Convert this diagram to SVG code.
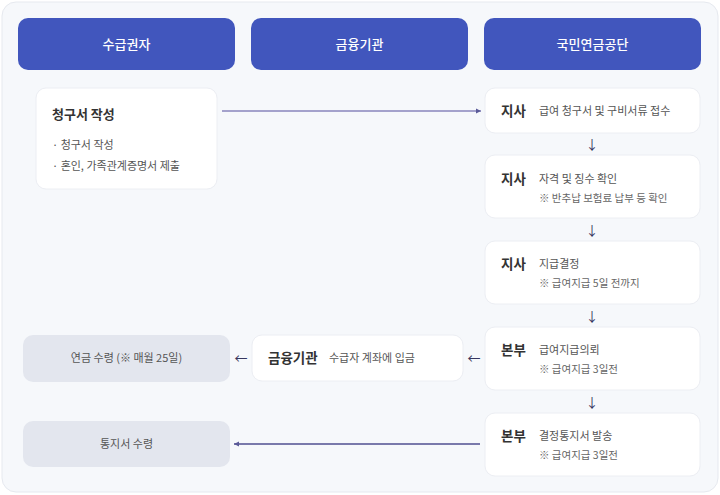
<svg xmlns="http://www.w3.org/2000/svg" width="720" height="495" viewBox="0 0 720 495">
<defs>
<style>
text{font-family:"Noto Sans CJK KR","Noto Sans",sans-serif}
.hdr{fill:#4156bd}
.ht{fill:#ffffff;font-size:13px;font-weight:500;text-anchor:middle}
.card{fill:#ffffff;stroke:#eceef3;stroke-width:1}
.gray{fill:#e3e6ee}
.tag{fill:#333;font-size:13.5px;font-weight:700}
.main{fill:#555;font-size:11px}
.sub{fill:#666;font-size:10.5px}
.glyph{fill:#36365e;font-size:13px;text-anchor:middle}
</style>
<marker id="ah" viewBox="0 0 6 6" refX="5" refY="3" markerWidth="6" markerHeight="6" orient="auto-start-reverse" markerUnits="userSpaceOnUse">
<path d="M0,0.5 L5,3 L0,5.5 z" fill="#5a5a98"/>
</marker>
</defs>
<rect x="2" y="2" width="716" height="490" rx="14" fill="#f6f8fb" stroke="#e6e9ef"/>

<g id="header-recipient"><rect class="hdr" x="18" y="18" width="217" height="52" rx="10"/><text class="ht" x="126.5" y="49">수급권자</text></g>
<g id="header-bank"><rect class="hdr" x="251" y="18" width="217" height="52" rx="10"/><text class="ht" x="359.5" y="49">금융기관</text></g>
<g id="header-nps"><rect class="hdr" x="484" y="18" width="217" height="52" rx="10"/><text class="ht" x="592.5" y="49">국민연금공단</text></g>

<g id="claim"><rect class="card" x="36" y="88" width="181" height="101" rx="10"/>
<text class="tag" x="52" y="119" style="font-size:13px">청구서 작성</text>
<text class="main" x="52" y="149">· 청구서 작성</text>
<text class="main" x="52" y="170">· 혼인, 가족관계증명서 제출</text></g>

<g id="step1"><rect class="card" x="485" y="88" width="215" height="45" rx="10"/>
<text class="tag" x="501" y="116">지사</text><text class="main" x="539" y="115">급여 청구서 및 구비서류 접수</text></g>
<g id="step2"><rect class="card" x="485" y="155" width="215" height="63" rx="10"/>
<text class="tag" x="501" y="184">지사</text><text class="main" x="539" y="183">자격 및 징수 확인</text><text class="sub" x="539" y="202">※ 반추납 보험료 납부 등 확인</text></g>
<g id="step3"><rect class="card" x="485" y="241" width="215" height="63" rx="10"/>
<text class="tag" x="501" y="269">지사</text><text class="main" x="539" y="268">지급결정</text><text class="sub" x="539" y="287">※ 급여지급 5일 전까지</text></g>
<g id="step4"><rect class="card" x="485" y="327" width="215" height="63" rx="10"/>
<text class="tag" x="501" y="355">본부</text><text class="main" x="539" y="354">급여지급의뢰</text><text class="sub" x="539" y="373">※ 급여지급 3일전</text></g>
<g id="step5"><rect class="card" x="485" y="413" width="215" height="63" rx="10"/>
<text class="tag" x="501" y="441">본부</text><text class="main" x="539" y="440">결정통지서 발송</text><text class="sub" x="539" y="459">※ 급여지급 3일전</text></g>

<g id="bank-deposit"><rect class="card" x="252" y="335" width="211" height="46" rx="10"/>
<text class="tag" x="268" y="363">금융기관</text><text class="main" x="329" y="362">수급자 계좌에 입금</text></g>
<g id="receive-pension"><rect class="gray" x="23" y="335" width="207" height="47" rx="10"/>
<text class="main" x="126.5" y="362" text-anchor="middle">연금 수령 (※ 매월 25일)</text></g>
<g id="receive-notice"><rect class="gray" x="23" y="421" width="207" height="46" rx="10"/>
<text class="main" x="126.5" y="448" text-anchor="middle">통지서 수령</text></g>

<g id="connectors">
<line x1="222" y1="111" x2="481" y2="111" stroke="#8886bd" stroke-width="1.3" marker-end="url(#ah)"/>
<line x1="480" y1="444" x2="234" y2="444" stroke="#4f4f90" stroke-width="1.3" marker-end="url(#ah)"/>
<text class="glyph" x="592" y="149">↓</text>
<text class="glyph" x="592" y="235">↓</text>
<text class="glyph" x="592" y="321">↓</text>
<text class="glyph" x="592" y="407">↓</text>
<text class="glyph" x="241" y="363">←</text>
<text class="glyph" x="474" y="363">←</text>
</g>
</svg>
